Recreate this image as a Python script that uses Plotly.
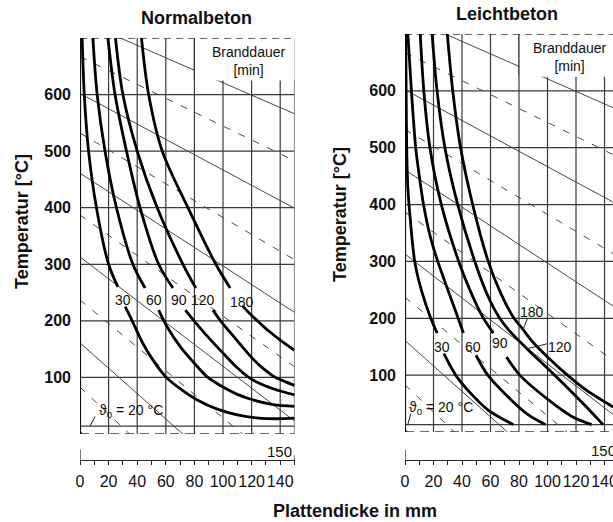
import plotly.graph_objects as go

# ---------------- data ----------------
grid_x = [20, 40, 60, 80, 100, 120, 140]
temp_ticks = [100, 200, 300, 400, 500, 600]
scale_ticks = [0, 10, 20, 30, 40, 50, 60, 70, 80, 90, 100, 110, 120, 130, 140, 150]
scale_text = ["0", "", "20", "", "40", "", "60", "", "80", "", "100", "", "120", "", "140", ""]
durations = ["30", "60", "90", "120", "180"]
theta0_text = "ϑ<sub>0</sub> = 20 °C"
base_T_nb = 14
base_T_lb = 13

# Normalbeton curves (segment above and below the labels)
nb_up_x = [[1.5, 3, 6, 11.5, 20, 26.5],
           [9, 12, 17.5, 25.5, 37, 45.5],
           [19.5, 24.5, 32.5, 42, 55, 65],
           [24.8, 30, 40, 54, 72, 81],
           [43, 48, 57.5, 75.5, 95, 105]]
nb_up_T = [[700, 600, 500, 400, 300, 260],
           [700, 600, 500, 400, 300, 258],
           [700, 600, 500, 400, 300, 258],
           [700, 600, 500, 400, 300, 258],
           [700, 600, 500, 400, 300, 258]]
nb_lo_x = [[31.6, 36.3, 44, 52, 60, 70, 82, 96, 110, 125, 138, 150],
           [55, 60.8, 70.2, 80, 89, 100, 110, 120, 135, 150],
           [73.7, 79.5, 89, 100, 110, 117, 125, 135, 150],
           [93, 98, 107.6, 121.6, 128, 136, 143, 150],
           [113.5, 119, 125, 132, 140, 150]]
nb_lo_T = [[225, 201, 160, 127, 101, 80, 60, 44, 34, 28, 27, 28],
           [219, 190, 154, 125, 101, 83, 70, 61, 52, 49],
           [219, 201, 173, 143, 117, 102, 90, 80, 69],
           [219, 201, 172, 131, 116, 101, 93, 86],
           [227, 212, 198, 182, 166, 148]]
nb_lab_x = [30, 52, 69.5, 86, 113]
nb_lab_T = [237, 237, 237, 237, 234]

# Leichtbeton curves
lb_up_x = [[0.5, 0.8, 1.2, 2, 3.5, 7, 12, 17.8, 22.6],
           [2, 4.5, 7.5, 9.5, 13, 17.8, 23, 37, 41],
           [10.7, 13.2, 17.5, 25.5, 37.7, 45.5, 54.6, 62],
           [19, 22.5, 28, 37, 49, 58, 66, 74, 87, 100, 114, 127, 139],
           [29.7, 33.5, 39, 47.5, 58.4, 67, 76, 82, 89, 100, 114, 127, 146]]
lb_up_T = [[700, 600, 500, 430, 380, 297, 245, 202, 174],
           [700, 600, 500, 460, 400, 343, 300, 202, 174],
           [700, 600, 500, 400, 300, 250, 202, 174],
           [700, 600, 500, 400, 300, 240, 202, 176, 143, 112, 78, 45, 13],
           [700, 600, 500, 400, 300, 245, 202, 183, 160, 132, 100, 74, 44]]
lb_lo_x = [[27.3, 35.6, 43.9, 58.1, 76],
           [49.8, 58.1, 74.7, 86.6, 98.5],
           [71.2, 80.6, 100.9, 117.4, 131]]
lb_lo_T = [[138, 100, 74, 39, 13],
           [135, 100, 56, 30, 13],
           [132, 100, 56, 27, 13]]
lb_lab_x = [25.8, 47.9, 66.7, 108.8, 88.9]
lb_lab_T = [150, 150, 156, 150, 211]
lb_leader_x = [[86, 83], [99.5, 85]]
lb_leader_T = [[200, 181], [155, 146]]

# diagonal helper lines: value at x=0 and at x=150
diag_solid_T0 = [731, 602, 461, 313, 161, 5]
diag_solid_T150 = [566, 399, 215, 23, -175, -378]
diag_dash_T0 = [667, 532, 387, 237, 83]
diag_dash_T150 = [483, 308, 119, -76, -276]

# ---------------- helpers ----------------
def seg(xs, ys):
    ox, oy = [], []
    for a, b in zip(xs, ys):
        ox += list(a) + [None]
        oy += list(b) + [None]
    return ox, oy

FONT = "Liberation Sans, Arial, sans-serif"
GRID = "#3a3a3a"

fig = go.Figure()


def panel(xr, yr, base_T, up_x, up_T, lo_x, lo_T, lab_x, lab_T, box_x0, bd_x):
    def add(x, y, width=1, color=GRID, dash=None, shape="linear", fill=None, fillcolor=None):
        fig.add_trace(go.Scatter(x=x, y=y, xaxis=xr, yaxis=yr, mode="lines",
                                 line=dict(width=width, color=color, dash=dash, shape=shape,
                                           smoothing=0.9 if shape == "spline" else None),
                                 fill=fill, fillcolor=fillcolor,
                                 hoverinfo="skip", showlegend=False))
    # diagonals
    dx, dy = seg([[0, 150]] * len(diag_solid_T0), [[a, b] for a, b in zip(diag_solid_T0, diag_solid_T150)])
    add(dx, dy, width=0.9, color="#333")
    dx, dy = seg([[0, 150]] * len(diag_dash_T0), [[a, b] for a, b in zip(diag_dash_T0, diag_dash_T150)])
    add(dx, dy, width=0.9, color="#333", dash="7px,9px")
    # horizontal grid
    hx, hy = seg([[0, 150]] * len(temp_ticks), [[t, t] for t in temp_ticks])
    add(hx, hy, width=1.3)
    add([0, 150], [base_T, base_T], width=1.2)
    # vertical grid
    vx, vy = seg([[g, g] for g in grid_x] + [[150, 150]], [[-3, 700]] * (len(grid_x) + 1))
    add(vx, vy, width=1.2)
    # bottom dashed border
    add([0, 150], [0, 0], width=1.3, dash="9px,6px")
    # white box behind legend title
    add([box_x0, 160, 160, box_x0, box_x0], [625, 625, 720, 720, 625], width=0, color="white",
        fill="toself", fillcolor="white")
    # top dashed border and box edge
    add([0, 150], [700, 700], width=1.3, dash="7px,5px")
    add([box_x0, box_x0], [625, 700], width=1.2)
    # left axis line
    add([0, 0], [-3, 700], width=2.2, color="#111")
    # curves
    cx, cy = seg(up_x, up_T)
    add(cx, cy, width=2.8, color="#000", shape="spline")
    cx, cy = seg(lo_x, lo_T)
    add(cx, cy, width=2.8, color="#000", shape="spline")
    for lx, lt, d in zip(lab_x, lab_T, durations):
        fig.add_annotation(x=lx, y=lt, xref=xr, yref=yr, text=d, showarrow=False,
                           font=dict(family=FONT, size=14, color="#111"))
    fig.add_annotation(x=bd_x, y=660, xref=xr, yref=yr,
                       text="Branddauer<br>[min]", showarrow=False,
                       font=dict(family=FONT, size=14, color="#111"))


panel("x", "y", base_T_nb, nb_up_x, nb_up_T, nb_lo_x, nb_lo_T, nb_lab_x, nb_lab_T, 80, 118.5)
panel("x2", "y2", base_T_lb, lb_up_x, lb_up_T, lb_lo_x, lb_lo_T, lb_lab_x, lb_lab_T, 80, 115.5)

# leaders
lx, ly = seg(lb_leader_x, lb_leader_T)
fig.add_trace(go.Scatter(x=lx, y=ly, xaxis="x2", yaxis="y2", mode="lines",
                         line=dict(width=1, color="#222"), hoverinfo="skip", showlegend=False))
fig.add_trace(go.Scatter(x=[10.5, 7], y=[31, base_T_nb], xaxis="x", yaxis="y", mode="lines",
                         line=dict(width=1, color="#222"), hoverinfo="skip", showlegend=False))
fig.add_trace(go.Scatter(x=[4, 2], y=[32, base_T_lb], xaxis="x2", yaxis="y2", mode="lines",
                         line=dict(width=1, color="#222"), hoverinfo="skip", showlegend=False))
fig.add_annotation(x=12, y=40, xref="x", yref="y", text=theta0_text, showarrow=False,
                   xanchor="left", font=dict(family=FONT, size=14, color="#111"))
fig.add_annotation(x=1.5, y=43, xref="x2", yref="y2", text=theta0_text, showarrow=False,
                   xanchor="left", font=dict(family=FONT, size=14, color="#111"))

W, H = 613, 522
def px(v): return v / W
def py(v): return 1 - v / H

# scale strips
for xr, yr in (("x3", "y3"), ("x4", "y4")):
    fig.add_trace(go.Scatter(x=[0, 0], y=[0, 0.65], xaxis=xr, yaxis=yr, mode="lines",
                             line=dict(width=1.2, color="#222"), hoverinfo="skip", showlegend=False))
    fig.add_trace(go.Scatter(x=[150, 150], y=[-0.25, 0.3], xaxis=xr, yaxis=yr, mode="lines",
                             line=dict(width=1.2, color="#222"), hoverinfo="skip", showlegend=False))
fig.add_annotation(x=px(294), y=py(451), xref="paper", yref="paper", text="150", showarrow=False,
                   xanchor="right", yanchor="middle", font=dict(family=FONT, size=15, color="#111"))
fig.add_annotation(x=px(618), y=py(450), xref="paper", yref="paper", text="150", showarrow=False,
                   xanchor="right", yanchor="middle", font=dict(family=FONT, size=15, color="#111"))

ytick = dict(tickvals=temp_ticks, ticktext=["<b>%d</b>" % t for t in temp_ticks], ticks="",
             tickfont=dict(family=FONT, size=16, color="#111"), showgrid=False, zeroline=False,
             showline=False, range=[0, 700], ticklabelstandoff=8, automargin=False)
noax = dict(showgrid=False, zeroline=False, showline=False, showticklabels=False, ticks="",
            automargin=False)
scale_ax = dict(showgrid=False, zeroline=False, showline=True, linecolor="#222", linewidth=1.2,
                ticks="outside", ticklen=4, tickcolor="#222", tickvals=scale_ticks, ticktext=scale_text,
                tickangle=0, tickfont=dict(family=FONT, size=16, color="#111"), ticklabelstandoff=3,
                ticklabeloverflow="allow", automargin=False)

fig.update_layout(
    width=W, height=H, margin=dict(l=0, r=0, t=0, b=0, pad=0, autoexpand=False),
    paper_bgcolor="white", plot_bgcolor="white", showlegend=False,
    xaxis=dict(domain=[px(80), px(294.5)], range=[0, 150], anchor="y", **noax),
    yaxis=dict(domain=[py(434), py(38)], anchor="x", **ytick),
    xaxis2=dict(domain=[px(405), 1], range=[0, 145.96], anchor="y2", **noax),
    yaxis2=dict(domain=[py(432), py(34)], anchor="x2", **ytick),
    xaxis3=dict(domain=[px(80), px(294.5)], range=[0, 150], anchor="y3", **scale_ax),
    yaxis3=dict(domain=[py(460), py(444)], range=[0, 1], anchor="x3", visible=False),
    xaxis4=dict(domain=[px(405), 1], range=[0, 145.96], anchor="y4", **scale_ax),
    yaxis4=dict(domain=[py(460), py(444)], range=[0, 1], anchor="x4", visible=False),
)

for txt, xx, yy, ang in (("<b>Normalbeton</b>", 196, 18, 0), ("<b>Leichtbeton</b>", 507, 14, 0),
                         ("<b>Temperatur [°C]</b>", 22, 222, -90), ("<b>Temperatur [°C]</b>", 340, 215, -90),
                         ("<b>Plattendicke in mm</b>", 355, 511, 0)):
    fig.add_annotation(x=px(xx), y=py(yy), xref="paper", yref="paper", text=txt, textangle=ang,
                       xanchor="center", yanchor="middle", showarrow=False,
                       font=dict(family=FONT, size=18, color="#111"))

fig.write_html("out.html")
